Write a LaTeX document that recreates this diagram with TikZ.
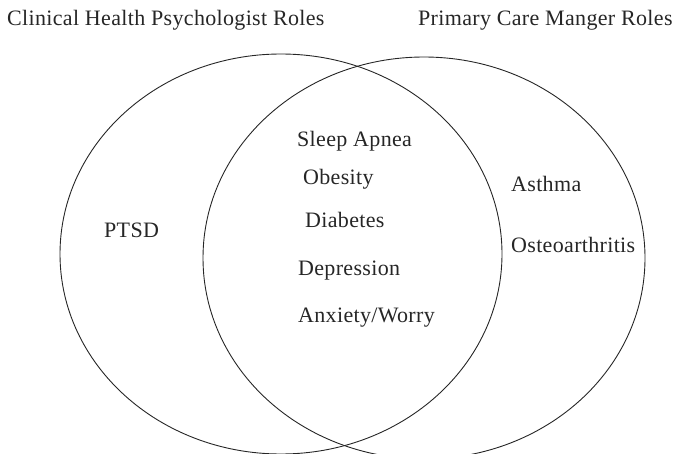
\documentclass[tikz,border=0pt]{standalone}
\usepackage{fontspec}
\setmainfont{Liberation Serif}
\newfontfamily\lsfont[LetterSpace=1.5]{Liberation Serif}
\begin{document}
\begin{tikzpicture}[x=1pt,y=-1pt,
  lbl/.style={anchor=base west,inner sep=0pt,text=black!85,font=\lsfont\fontsize{22}{26}\selectfont},
  venn/.style={draw=black!85,line width=0.9pt}]
\useasboundingbox (0,0) rectangle (682,454);
\begin{scope}
\clip (0,0) rectangle (682,454);
\draw[venn] (281,254) ellipse [x radius=221, y radius=200];
\draw[venn] (424,258) ellipse [x radius=221, y radius=201];
\end{scope}
\node[lbl] (t1) at (7,26) {Clinical Health Psychologist Roles};
\node[lbl] (t2) at (418,26) {Primary Care Manger Roles};
\node[lbl] (ptsd) at (104,238) {PTSD};
\node[lbl] (sleep) at (297,147) {Sleep Apnea};
\node[lbl] (obes) at (303,185) {Obesity};
\node[lbl] (diab) at (305,228) {Diabetes};
\node[lbl] (dep) at (298,275) {Depression};
\node[lbl] (anx) at (298,322) {Anxiety/Worry};
\node[lbl] (asth) at (511,192) {Asthma};
\node[lbl] (osteo) at (511,253) {Osteoarthritis};
\end{tikzpicture}
\end{document}
